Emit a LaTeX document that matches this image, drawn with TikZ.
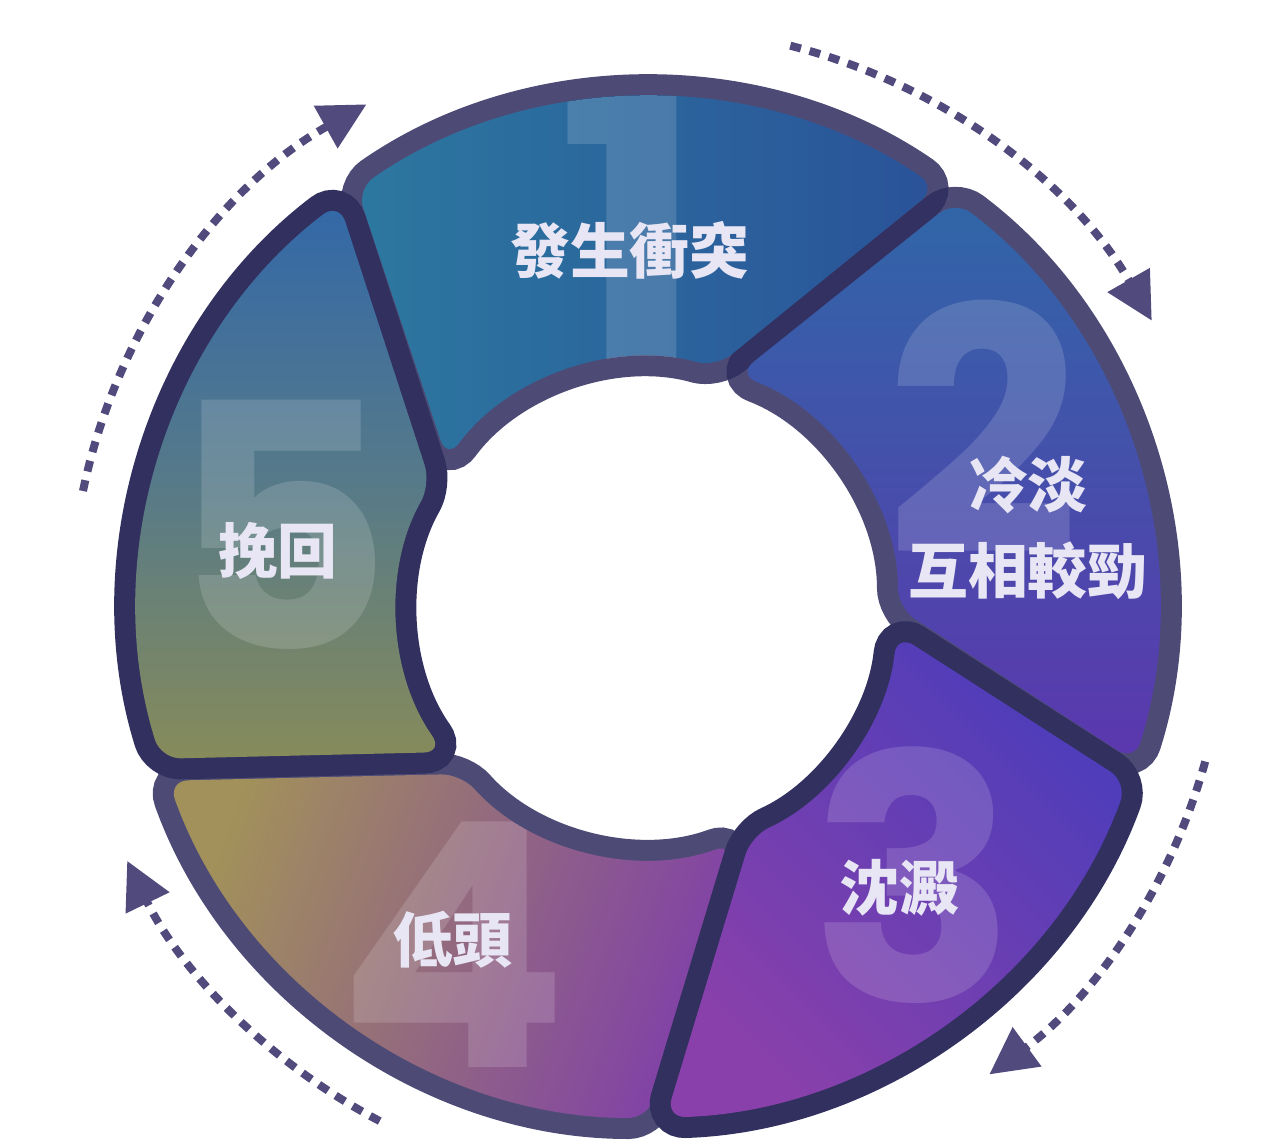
\documentclass[tikz,border=0pt]{standalone}
\usepackage{fontspec}
\newfontfamily\cjkfont{Noto Sans CJK TC}
\newfontfamily\numfont{Poppins}
\usetikzlibrary{arrows.meta}

\definecolor{rimsoft}{HTML}{2E2C5E}
\definecolor{rimnavy}{HTML}{31305F}
\definecolor{flowline}{HTML}{504A7D}
\definecolor{labeltext}{HTML}{E8E6F4}

% one ring piece: outer arc, side, inner arc, side
\newcommand\ringseg[4]{(#1:\Ro) arc[start angle=#1, end angle=#2, radius=\Ro] -- (#3:\Ri) arc[start angle=#3, end angle=#4, radius=\Ri] -- cycle}

\begin{document}
\begin{tikzpicture}[
    x=0.01cm, y=0.01cm,
    softrim/.style={draw=rimsoft, draw opacity=0.85, line width=0.42cm, rounded corners=0.2cm},
    hardrim/.style={draw=rimnavy, line width=0.42cm, rounded corners=0.2cm},
    segfill/.style={rounded corners=0.2cm},
    bignum/.style={font=\numfont\bfseries\fontsize{97}{97}\selectfont, text=white, text opacity=0.15, inner sep=0pt},
    seglabel/.style={font=\cjkfont\bfseries\fontsize{17}{24.4}\selectfont, text=labeltext, align=center, inner sep=0pt},
    flow/.style={draw=flowline, line width=0.08cm, dash pattern=on 0.11cm off 0.09cm, -{Triangle[length=13.3pt, width=13.3pt]}}
]
    \useasboundingbox (-648,-538) rectangle (621,608);

    % Radii of the ring (fill edges)
    \def\Ro{510}
    \def\Ri{250}

    % Soft rims first, so that neighbours darken where they meet
    \draw[softrim] \ringseg{124.8}{55.5}{74.3}{143.5};
    \draw[softrim] \ringseg{53}{-17.5}{0}{69};
    \draw[softrim] \ringseg{270}{199.8}{221.6}{290};

    % Stage 1
    \shade[segfill, left color={rgb,255:red,44;green,120;blue,160}, right color={rgb,255:red,42;green,82;blue,153}] \ringseg{124.8}{55.5}{74.3}{143.5};
    \begin{scope}
        \clip[segfill] \ringseg{124.8}{55.5}{74.3}{143.5};
        \node[bignum, scale=1.15] (numOne) at (-17,383) {1};
    \end{scope}

    % Stage 2
    \shade[segfill, top color={rgb,255:red,48;green,102;blue,168}, bottom color={rgb,255:red,92;green,55;blue,174}] \ringseg{53}{-17.5}{0}{69};
    \begin{scope}
        \clip[segfill] \ringseg{53}{-17.5}{0}{69};
        \node[bignum] (numTwo) at (335,181) {2};
    \end{scope}

    % Stage 4
    \shade[segfill, left color={rgb,255:red,162;green,145;blue,90}, right color={rgb,255:red,129;green,65;blue,167}, middle color={rgb,255:red,147;green,105;blue,127}, shading angle=70] \ringseg{270}{199.8}{221.6}{290};
    \begin{scope}
        \clip[segfill] \ringseg{270}{199.8}{221.6}{290};
        \node[bignum] (numFour) at (-195,-337) {4};
    \end{scope}

    % Stage 3 (raised, dark rim)
    \draw[hardrim] \ringseg{-20}{-88}{-65.6}{-6};
    \shade[segfill, top color={rgb,255:red,77;green,61;blue,186}, bottom color={rgb,255:red,138;green,64;blue,170}, shading angle=-45] \ringseg{-20}{-88}{-65.6}{-6};
    \begin{scope}
        \clip[segfill] \ringseg{-20}{-88}{-65.6}{-6};
        \node[bignum] (numThree) at (266,-267) {3};
    \end{scope}

    % Stage 5 (raised, dark rim)
    \draw[hardrim] \ringseg{197.2}{127.3}{150.3}{215.2};
    \shade[segfill, top color={rgb,255:red,51;green,104;blue,168}, bottom color={rgb,255:red,134;green,139;blue,90}, middle color={rgb,255:red,86;green,122;blue,137}] \ringseg{197.2}{127.3}{150.3}{215.2};
    \begin{scope}
        \clip[segfill] \ringseg{197.2}{127.3}{150.3}{215.2};
        \node[bignum] (numFive) at (-367,83) {5};
    \end{scope}

    % Stage labels
    \node[seglabel] (stageOne) at (-18,358) {發生衝突};
    \node[seglabel] (stageTwo) at (380,80) {冷淡\\互相較勁};
    \node[seglabel] (stageThree) at (251,-280) {沈澱};
    \node[seglabel] (stageFour) at (-195,-332) {低頭};
    \node[seglabel] (stageFive) at (-370,57) {挽回};

    % Dotted flow arrows round the ring
    \draw[flow] (75.8:580) arc[start angle=75.8, end angle=29.7, radius=580];
    \draw[flow] (-15.4:578) arc[start angle=-15.4, end angle=-53.8, radius=578];
    \draw[flow] (242.4:579) arc[start angle=242.4, end angle=205.9, radius=579];
    \draw[flow] (168.3:577) arc[start angle=168.3, end angle=119.2, radius=577];

\end{tikzpicture}
\end{document}
